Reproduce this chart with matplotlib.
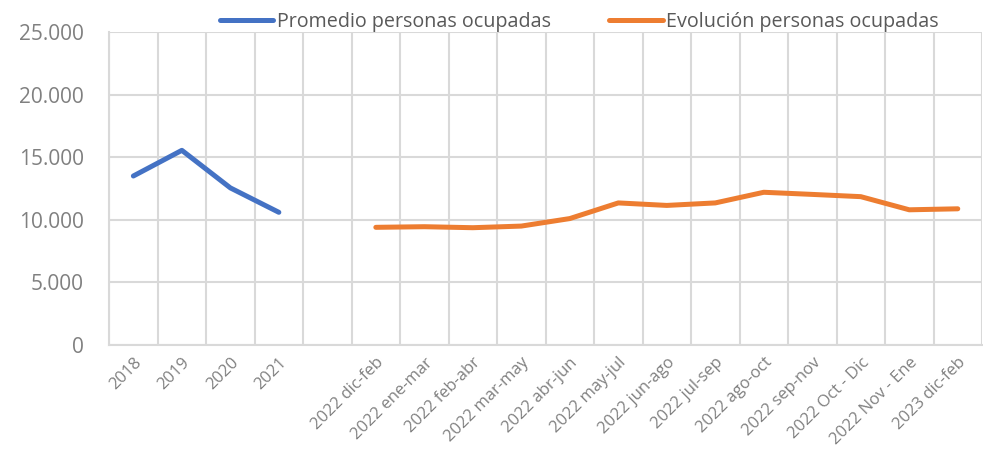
import numpy as np
import matplotlib.pyplot as plt

plt.rcParams['font.family'] = ['Open Sans', 'DejaVu Sans']

categories = ['2018', '2019', '2020', '2021', '',
              '2022 dic-feb', '2022 ene-mar', '2022 feb-abr', '2022 mar-may',
              '2022 abr-jun', '2022 may-jul', '2022 jun-ago', '2022 jul-sep',
              '2022 ago-oct', '2022 sep-nov', '2022 Oct - Dic', '2022 Nov - Ene',
              '2023 dic-feb']
nan = np.nan
promedio = [13500, 15550, 12550, 10600] + [nan] * 14
evolucion = [nan] * 5 + [9400, 9450, 9370, 9500, 10100, 11350, 11150,
                         11350, 12200, 12030, 11850, 10800, 10880]

fig = plt.figure(figsize=(9.83, 4.51), dpi=100)
ax = fig.add_axes([0.111, 0.235, 0.888, 0.694])

x = np.arange(len(categories))
ax.plot(x, promedio, color='#4472C4', lw=3.6, solid_capstyle='round',
        solid_joinstyle='round', label='Promedio personas ocupadas')
ax.plot(x, evolucion, color='#ED7D31', lw=3.6, solid_capstyle='round',
        solid_joinstyle='round', label='Evolución personas ocupadas')

ax.set_xlim(-0.5, len(categories) - 0.5)
ax.set_ylim(0, 25000)
ax.set_yticks(np.arange(0, 25001, 5000))
ax.set_yticklabels(['0', '5.000', '10.000', '15.000', '20.000', '25.000'])

# gridlines between categories (Excel style)
for b in np.arange(-0.5, len(categories), 1.0):
    ax.axvline(b, color='#d9d9d9', lw=1.5, zorder=0)
ax.yaxis.grid(True, color='#d9d9d9', lw=1.5, zorder=0)
ax.set_axisbelow(True)

ax.set_xticks(x)
ax.set_xticklabels(categories, rotation=45, ha='right', rotation_mode='anchor')
ax.tick_params(axis='x', length=0, pad=7, labelsize=12, labelcolor='#808080')
ax.tick_params(axis='y', length=0, pad=18, labelsize=15, labelcolor='#808080')

for s in ['top', 'right']:
    ax.spines[s].set_visible(False)
for s in ['left', 'bottom']:
    ax.spines[s].set_color('#d9d9d9')
    ax.spines[s].set_linewidth(1.5)

fig.legend(loc='upper center', bbox_to_anchor=(0.5895, 1.012), ncol=2, frameon=False,
           fontsize=14.2, handlelength=2.7, handletextpad=0.2, columnspacing=2.95,
           labelcolor='#595959')

fig.savefig('out.png', dpi=100)
